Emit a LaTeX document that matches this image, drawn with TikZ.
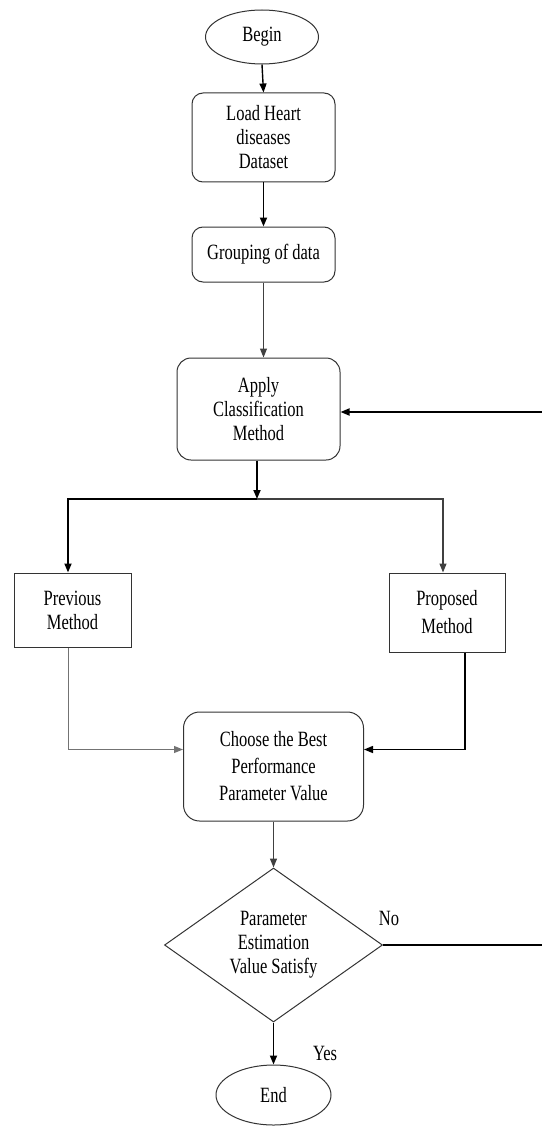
\documentclass[tikz,border=0pt]{standalone}
\usepackage{fontspec}
\usepackage{graphicx}
\setmainfont{Liberation Serif}
\usetikzlibrary{shapes.geometric,arrows.meta}
\newcommand{\tl}[1]{\scalebox{1}[1.32]{#1}}
\tikzset{
  box/.style={draw=black!80,line width=1pt,rounded corners=11pt,align=center,inner sep=0pt,font=\fontsize{16.5}{24}\selectfont},
  sqbox/.style={draw=black!80,line width=1pt,align=center,inner sep=0pt,font=\fontsize{16.5}{24}\selectfont},
  term/.style={draw=black!80,line width=1pt,ellipse,inner sep=0pt,font=\fontsize{16.5}{24}\selectfont},
  dec/.style={draw=black!80,line width=1pt,diamond,aspect=1.42,inner sep=0pt,align=center,font=\fontsize{16.5}{24}\selectfont},
  thk/.style={line width=1.7pt,black,-{Triangle[length=9pt,width=7pt]}},
  thn/.style={line width=1pt,black!75,-{Triangle[length=9pt,width=7pt]}},
  lbl/.style={font=\fontsize{16.5}{24}\selectfont,inner sep=0pt}
}
\begin{document}
\begin{tikzpicture}[x=1pt,y=-1pt]
\useasboundingbox (0,0) rectangle (541,1126);
\node[term,minimum width=113pt,minimum height=54pt] (begin) at (262,37) {\tl{Begin}};
\node[box,minimum width=143pt,minimum height=89pt] (load) at (263.5,137.5) {\tl{Load Heart}\\\tl{diseases}\\\tl{Dataset}};
\node[box,minimum width=143pt,minimum height=55pt] (group) at (263.5,254.5) {\tl{Grouping of data}};
\node[box,rounded corners=14pt,minimum width=163pt,minimum height=102pt] (apply) at (258.5,409) {\tl{Apply}\\\tl{Classification}\\\tl{Method}};
\node[sqbox,minimum width=117pt,minimum height=74pt] (prev) at (72.5,610) {\tl{Previous}\\\tl{Method}};
\node[sqbox,minimum width=116pt,minimum height=79pt,font=\fontsize{16.5}{28}\selectfont] (prop) at (447,612.5) {\tl{Proposed}\\\tl{Method}};
\node[box,rounded corners=16pt,minimum width=180pt,minimum height=109pt,font=\fontsize{16.5}{27}\selectfont] (choose) at (273.5,766.5) {\tl{Choose the Best}\\\tl{Performance}\\\tl{Parameter Value}};
\node[dec,minimum width=218pt,minimum height=154pt] (dia) at (273.5,945) {\tl{Parameter}\\\tl{Estimation}\\\tl{Value Satisfy}};
\node[term,minimum width=115pt,minimum height=60pt] (end) at (273.5,1095) {\tl{End}};
\coordinate (j) at (257,499);
\coordinate (r1) at (544,945);
\coordinate (r2) at (544,412);
\node[lbl] (no) at (389,918) {\tl{No}};
\node[lbl] (yes) at (325,1053) {\tl{Yes}};

\draw[thk,line width=1.4pt] (begin.south) -- (load.north);
\draw[thk] (load.south) -- (group.north);
\draw[thn] (group.south) -- (group.south |- apply.north);
\draw[thk] (apply.south -| j) -- (j);
\draw[thk] (j) -| ([xshift=-4.5pt]prev.north);
\draw[thn,line width=1.3pt] (j) -| ([xshift=-4pt]prop.north);
\draw[thn,black!55] ([xshift=-4.5pt]prev.south) |- ([yshift=17pt]choose.west);
\draw[thk,line width=1.4pt] ([xshift=18pt]prop.south) |- ([yshift=17pt]choose.east);
\draw[thn,line width=1.3pt] (choose.south) -- (dia.north);
\draw[thk] (dia.south) -- (end.north);
\draw[thk] (dia.east) -- (r1) -- (r2) -- (apply.east |- r2);
\end{tikzpicture}
\end{document}
